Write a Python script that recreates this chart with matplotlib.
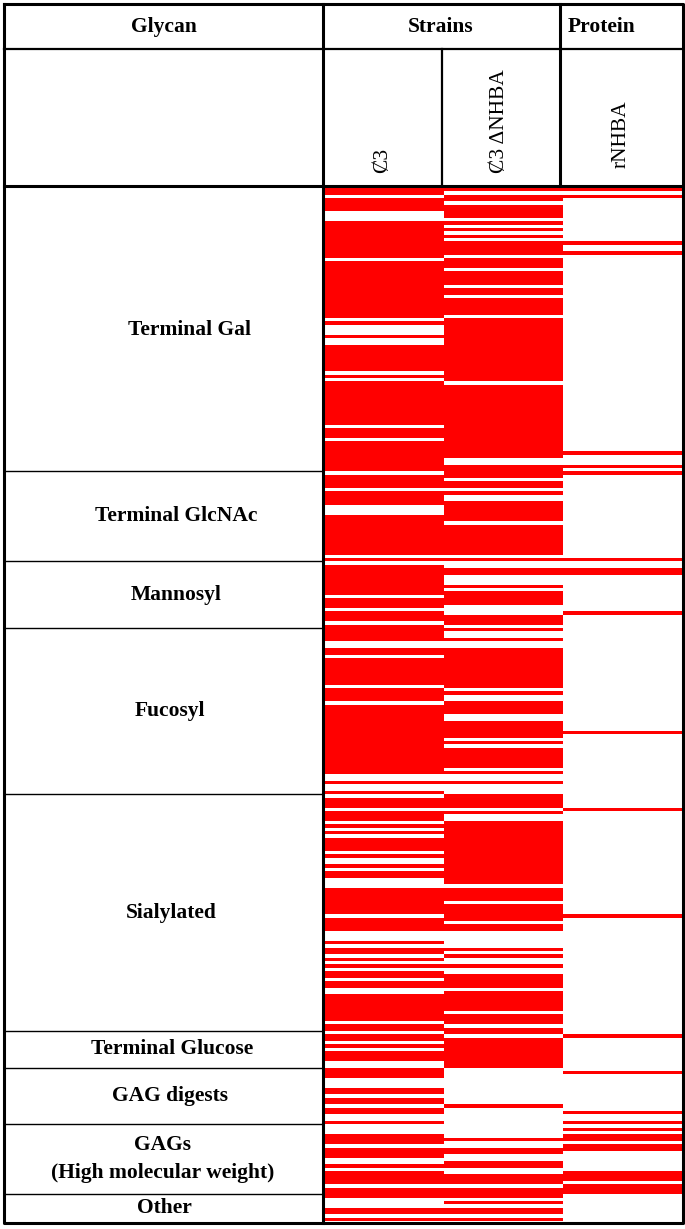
import numpy as np
import matplotlib
matplotlib.use('Agg')
import matplotlib.pyplot as plt
from matplotlib.colors import ListedColormap
from matplotlib.transforms import blended_transform_factory

# glycan groups (rows per group, top to bottom)
groups = ['Terminal Gal', 'Terminal GlcNAc', 'Mannosyl', 'Fucosyl', 'Sialylated',
          'Terminal Glucose', 'GAG digests', 'GAGs\n(High molecular weight)', 'Other']
group_sizes = [85, 27, 20, 50, 71, 11, 17, 21, 8]
n_rows = sum(group_sizes)

columns = ['Ȼ3', 'Ȼ3 ΔNHBA', 'rNHBA']

# binding hits as runs of rows [start, end)
c3_hits = [(0, 2), (3, 7), (10, 21), (22, 39), (40, 41), (44, 45), (47, 55), (56, 57),
           (58, 71), (72, 75), (76, 85), (86, 90), (91, 95), (98, 110), (111, 112),
           (113, 122), (123, 126), (127, 130), (131, 136), (138, 140), (141, 149),
           (150, 154), (155, 176), (178, 179), (181, 182), (183, 186), (187, 190),
           (191, 192), (193, 194), (195, 199), (200, 201), (203, 204), (205, 207),
           (210, 218), (219, 223), (226, 227), (228, 230), (231, 232), (233, 234),
           (235, 237), (238, 240), (242, 250), (251, 253), (254, 256), (257, 258),
           (259, 262), (264, 267), (270, 272), (273, 275), (276, 278), (280, 281),
           (284, 287), (288, 291), (293, 294), (295, 299), (300, 303), (306, 308),
           (309, 310)]
c3_dnhba_hits = [(0, 1), (2, 4), (5, 9), (10, 11), (12, 13), (14, 15), (16, 20), (21, 24),
                 (25, 29), (30, 32), (33, 38), (39, 58), (59, 81), (83, 87), (88, 90),
                 (91, 92), (94, 100), (101, 110), (111, 112), (114, 116), (119, 120),
                 (121, 125), (128, 131), (132, 133), (135, 136), (138, 150), (151, 152),
                 (154, 158), (160, 165), (166, 167), (168, 174), (175, 176), (178, 179),
                 (182, 186), (187, 188), (190, 209), (210, 214), (215, 220), (221, 223),
                 (228, 229), (230, 231), (233, 234), (236, 240), (241, 247), (248, 251),
                 (252, 254), (255, 264), (275, 276), (285, 286), (288, 290), (292, 294),
                 (296, 299), (300, 303), (304, 305), (306, 308), (309, 310)]
rnhba_hits = [(0, 1), (2, 3), (16, 17), (19, 20), (79, 80), (83, 84), (85, 86),
              (111, 112), (114, 116), (127, 128), (163, 164), (186, 187), (218, 219),
              (254, 255), (265, 266), (277, 278), (280, 281), (282, 283), (284, 286),
              (287, 289), (295, 298), (299, 302)]

matrix = np.zeros((n_rows, len(columns)))
for j, hits in enumerate([c3_hits, c3_dnhba_hits, rnhba_hits]):
    for start, end in hits:
        matrix[start:end, j] = 1

W, H = 685, 1229
fig = plt.figure(figsize=(W / 100, H / 100), dpi=100)
fig.patch.set_facecolor('white')

serif = ['Liberation Serif', 'DejaVu Serif']
fs = 15.5

# heatmap
hm = fig.add_axes([325 / W, 1 - 1221 / H, 357 / W, 1033 / H])
hm.pcolormesh(np.arange(4), np.arange(n_rows + 1), matrix,
              cmap=ListedColormap(['white', '#ff0000']), vmin=0, vmax=1)
hm.set_xlim(0, 3)
hm.set_ylim(n_rows, 0)
hm.axis('off')

# table frame
ax = fig.add_axes([0, 0, 1, 1], zorder=5)
ax.set_xlim(0, W)
ax.set_ylim(H, 0)
ax.axis('off')

thick = 2.2
ax.plot([4, 683, 683, 4, 4], [4, 4, 1223, 1223, 4], color='black', lw=thick)
ax.plot([323, 323], [4, 1223], color='black', lw=thick)
ax.plot([4, 683], [49, 49], color='black', lw=1.6)
ax.plot([4, 683], [186, 186], color='black', lw=thick)
ax.plot([560, 560], [4, 186], color='black', lw=thick)
ax.plot([442, 442], [49, 186], color='black', lw=1.6)

ax.text(164, 27, 'Glycan', ha='center', va='center', fontsize=fs,
        fontweight='bold', family=serif)
ax.text(441, 27, 'Strains', ha='center', va='center', fontsize=fs,
        fontweight='bold', family=serif)
ax.text(602, 27, 'Protein', ha='center', va='center', fontsize=fs,
        fontweight='bold', family=serif)

for x, y, label in zip([383, 500, 621], [173, 173, 168], columns):
    ax.text(x, y, label, rotation=90, ha='center', va='bottom',
            fontsize=fs, family=serif)

# group separators and labels, y follows heatmap rows
tr = blended_transform_factory(ax.transData, hm.transData)
edges = np.concatenate([[0], np.cumsum(group_sizes)])
label_x = [190, 176, 176, 170, 171, 172, 170, 163, 164]
for i, name in enumerate(groups):
    if i > 0:
        ax.plot([4, 323], [edges[i], edges[i]], color='black', lw=1.0, transform=tr)
    ax.text(label_x[i], (edges[i] + edges[i + 1]) / 2, name, ha='center', va='center',
            fontsize=fs, fontweight='bold', family=serif, transform=tr,
            linespacing=1.55)

fig.savefig('out.png', dpi=100, facecolor='white')
plt.close(fig)
